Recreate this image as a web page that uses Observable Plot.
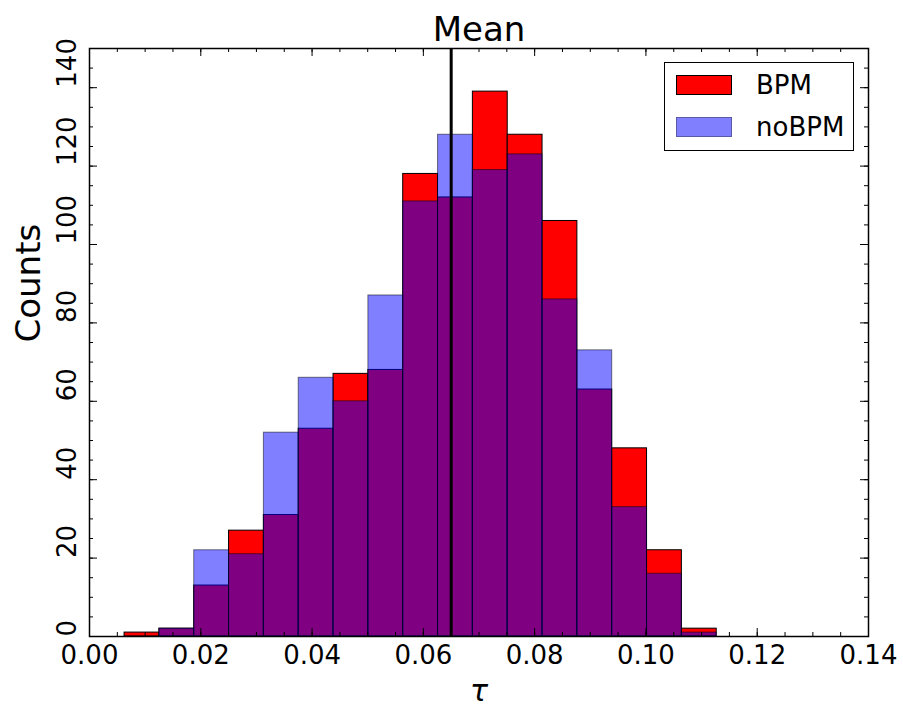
<!DOCTYPE html>
<html><head><meta charset="utf-8">
<script src="https://cdn.jsdelivr.net/npm/d3@7"></script>
<script src="https://cdn.jsdelivr.net/npm/@observablehq/plot@0.6"></script>
<style>
body{margin:0;background:#fff;font-family:"DejaVu Sans",sans-serif;}
#wrap{position:relative;width:903px;height:706px;overflow:hidden;}
#legend{position:absolute;left:664px;top:62px;width:190px;height:89px;border:1.5px solid #000;background:#fff;box-sizing:border-box;font-size:26px;}
.row{position:absolute;left:11px;height:21px;display:flex;align-items:center;}
.sw{width:56px;height:20px;box-sizing:border-box;margin-right:24px;}
</style></head><body><div id="wrap"></div>
<script>
// Histogram bin edges (shared by both series)
const binEdges = [0.0063, 0.01256, 0.01882, 0.02508, 0.03134, 0.0376, 0.04386, 0.05012, 0.05638,
  0.06264, 0.0689, 0.07516, 0.08142, 0.08768, 0.09394, 0.1002, 0.10646, 0.11272];
// Counts per bin
const bpmCounts   = [1, 2, 13, 27, 31, 53, 67, 68, 118, 112, 139, 128, 106, 63, 48, 22, 2];
const nobpmCounts = [0, 2, 22, 21, 52, 66, 60, 87, 111, 128, 119, 123, 86, 73, 33, 16, 1];
const meanTau = 0.065;
const seriesNames = ["BPM", "noBPM"];
const xTicks = [0, 0.02, 0.04, 0.06, 0.08, 0.10, 0.12, 0.14];
const yTicks = [0, 20, 40, 60, 80, 100, 120, 140];
const xMinor = d3.range(0, 0.1401, 0.005);
const yMinor = d3.range(0, 150.1, 5);

const bpm = bpmCounts.map((c, i) => ({x1: binEdges[i], x2: binEdges[i + 1], y: c}));
const nobpm = nobpmCounts.map((c, i) => ({x1: binEdges[i], x2: binEdges[i + 1], y: c}));

const W = 903, H = 706, mL = 89, mR = 35, mT = 48, mB = 70;
const pw = W - mL - mR, ph = H - mT - mB;

const chart = Plot.plot({
  width: W, height: H,
  marginLeft: mL, marginRight: mR, marginTop: mT, marginBottom: mB,
  style: {fontFamily: "DejaVu Sans, sans-serif", color: "#000", background: "#fff"},
  x: {domain: [0, 0.14], axis: null},
  y: {domain: [0, 150], axis: null},
  marks: [
    Plot.rectY(bpm, {x1: "x1", x2: "x2", y: "y", fill: "#ff0000", stroke: "#000", strokeWidth: 1}),
    Plot.rectY(nobpm, {x1: "x1", x2: "x2", y: "y", fill: "#0000ff", fillOpacity: 0.5, stroke: "#000", strokeOpacity: 0.5, strokeWidth: 1}),
    Plot.ruleX([meanTau], {stroke: "#000", strokeWidth: 3}),
    // ticks (inward, all four sides)
    Plot.tickX(xTicks, {x: d => d, insetTop: ph - 8, stroke: "#000"}),
    Plot.tickX(xTicks, {x: d => d, insetBottom: ph - 8, stroke: "#000"}),
    Plot.tickX(xMinor, {x: d => d, insetTop: ph - 4, stroke: "#000"}),
    Plot.tickX(xMinor, {x: d => d, insetBottom: ph - 4, stroke: "#000"}),
    Plot.tickY(yTicks, {y: d => d, insetRight: pw - 8, stroke: "#000"}),
    Plot.tickY(yTicks, {y: d => d, insetLeft: pw - 8, stroke: "#000"}),
    Plot.tickY(yMinor, {y: d => d, insetRight: pw - 4, stroke: "#000"}),
    Plot.tickY(yMinor, {y: d => d, insetLeft: pw - 4, stroke: "#000"}),
    Plot.frame({stroke: "#000", strokeWidth: 1.5}),
    // tick labels
    Plot.text(xTicks, {x: d => d, frameAnchor: "bottom", lineAnchor: "top", dy: 9, text: d => d.toFixed(2), fontSize: 26, fill: "#000"}),
    Plot.text(yTicks, {y: d => d, frameAnchor: "left", rotate: -90, lineAnchor: "bottom", dx: -14, text: d => String(d), fontSize: 26, fill: "#000"}),
    // titles
    Plot.text(["Mean"], {frameAnchor: "top", lineAnchor: "bottom", dy: -8, text: d => d, fontSize: 34, fill: "#000"}),
    Plot.text(["Counts"], {frameAnchor: "left", rotate: -90, lineAnchor: "bottom", dx: -50, text: d => d, fontSize: 34, fill: "#000"}),
    Plot.text(["τ"], {frameAnchor: "bottom", lineAnchor: "bottom", dy: 64, text: d => d, fontSize: 30, fontStyle: "italic", fill: "#000"})
  ]
});
const wrap = document.getElementById("wrap");
wrap.appendChild(chart);

const legend = document.createElement("div");
legend.id = "legend";
const fills = [{bg: "#ff0000", bd: "#000"}, {bg: "#8080ff", bd: "#5a5aa8"}];
seriesNames.forEach((name, i) => {
  const row = document.createElement("div");
  row.className = "row";
  row.style.top = (i === 0 ? 11 : 53) + "px";
  const sw = document.createElement("div");
  sw.className = "sw";
  sw.style.background = fills[i].bg;
  sw.style.border = "1.2px solid " + fills[i].bd;
  const t = document.createElement("span");
  t.textContent = name;
  row.appendChild(sw); row.appendChild(t);
  legend.appendChild(row);
});
wrap.appendChild(legend);
</script></body></html>
